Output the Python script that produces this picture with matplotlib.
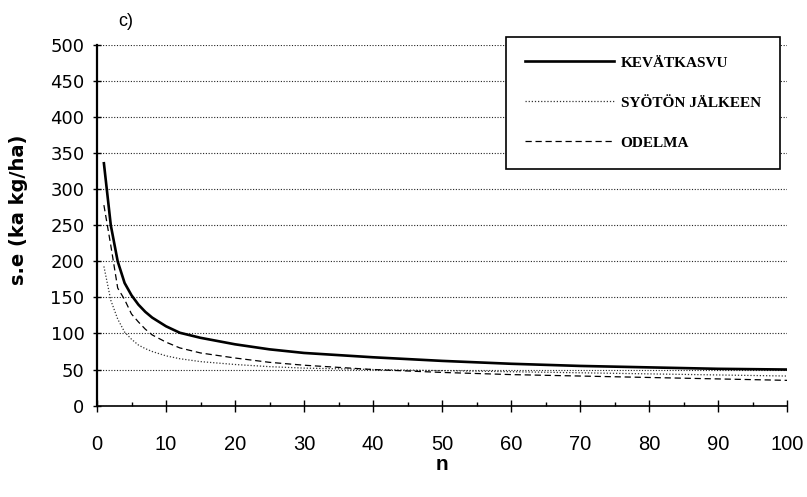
import matplotlib
matplotlib.use("Agg")
import matplotlib.pyplot as plt
from matplotlib.ticker import MultipleLocator

# values (panel c)
n = [1, 2, 3, 4, 5, 6, 7, 8, 10, 12, 15, 20, 25, 30, 40, 50, 60, 70, 80, 90, 100]
kevatkasvu = [336, 250, 200, 170, 153, 140, 130, 122, 110, 101, 94, 85, 78, 73, 67, 62, 58, 55, 53, 51, 50]
syoton_jalkeen = [193, 146, 120, 102, 92, 84, 79, 75, 69, 65, 61, 57, 54, 52, 50, 48.5, 47, 45.5, 44, 42.5, 41]
odelma = [278, 222, 163, 147, 127, 116, 106, 98, 88, 80, 73, 66, 60, 56, 50, 46, 43, 41, 39, 37, 35]

labels = ["KEVÄTKASVU", "SYÖTÖN JÄLKEEN", "ODELMA"]

plt.rcParams['font.family'] = ['Liberation Sans', 'DejaVu Sans']

fig = plt.figure(figsize=(8.07, 4.97), dpi=100)
ax = fig.add_axes([97 / 807, 1 - 405.6 / 497, 690 / 807, (405.6 - 45) / 497])

ax.plot(n, kevatkasvu, color='black', lw=1.9, label=labels[0])
ax.plot(n, syoton_jalkeen, color='#333333', lw=0.9, linestyle=(0, (1, 1.5)), label=labels[1])
ax.plot(n, odelma, color='black', lw=0.9, linestyle=(0, (5, 3)), label=labels[2])

ax.set_xlim(0, 100)
ax.set_ylim(0, 500)
ax.xaxis.set_major_locator(MultipleLocator(10))
ax.xaxis.set_minor_locator(MultipleLocator(5))
ax.yaxis.set_major_locator(MultipleLocator(50))

ax.grid(axis='y', color='#222222', lw=0.8, linestyle=(0, (1, 1.5)))
ax.set_axisbelow(True)

for side in ['top', 'right']:
    ax.spines[side].set_visible(False)
ax.spines['left'].set_linewidth(1.6)
ax.spines['bottom'].set_linewidth(1.2)

ax.tick_params(axis='x', which='major', direction='inout', length=8, width=1, labelsize=14.5, pad=17)
ax.tick_params(axis='x', which='minor', direction='in', length=3, width=1)
ax.tick_params(axis='y', which='major', direction='inout', length=6, width=1, labelsize=13, pad=6)
for lab in ax.get_yticklabels():
    lab.set_family(['DejaVu Sans'])

ax.set_ylabel("s.e (ka kg/ha)", fontsize=14, fontweight='bold', family=['DejaVu Sans'])
ax.yaxis.set_label_coords(-0.100, 0.542)
ax.set_xlabel("n", fontsize=15, fontweight='bold', labelpad=1)

fig.text(126 / 807, 1 - 21 / 497, "c)", fontsize=13, va='center', ha='center')

leg = ax.legend(loc='upper left', bbox_to_anchor=(506 / 807, 1 - 37 / 497),
                bbox_transform=fig.transFigure, borderaxespad=0,
                frameon=True, fancybox=False, edgecolor='black', framealpha=1,
                handlelength=5.8, handletextpad=0.45, labelspacing=1.72, borderpad=1.25,
                prop={'family': ['Liberation Serif'], 'weight': 'bold', 'size': 11})
leg.get_frame().set_linewidth(1.2)

fig.savefig("out.png", dpi=100)
